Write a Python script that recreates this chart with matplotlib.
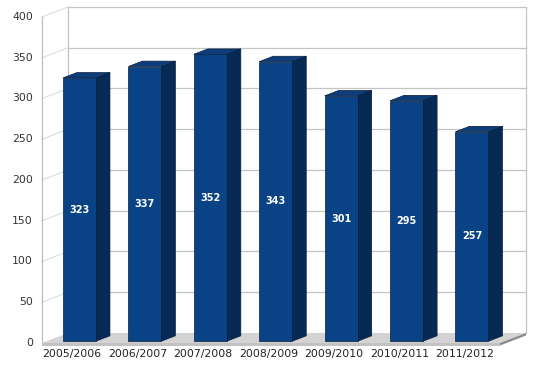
import matplotlib
matplotlib.use("Agg")
import matplotlib.pyplot as plt
from matplotlib.patches import Polygon

categories = ["2005/2006", "2006/2007", "2007/2008", "2008/2009",
              "2009/2010", "2010/2011", "2011/2012"]
values = [323, 337, 352, 343, 301, 295, 257]
yticks = [0, 50, 100, 150, 200, 250, 300, 350, 400]

W, H = 539, 369
fig = plt.figure(figsize=(W / 100, H / 100), dpi=100)
# front plane: x 42..500 px, y(from top) 343..17 px
L, R, B, T = 42, 500, 343, 17
ax = fig.add_axes([L / W, (H - B) / H, (R - L) / W, (B - T) / H])
n = len(categories)
ymax = 400
ax.set_xlim(0, n)
ax.set_ylim(0, ymax)
ax.axis("off")

# depth vector in data units (26 px right, 10 px up)
px_x = n / (R - L)
px_y = ymax / (B - T)
DX, DY = 26 * px_x, 10 * px_y

def pt(x, y, d):
    return (x + DX * d, y + DY * d)

grid_c = "#c4c4c4"
# back wall gridlines and diagonals
for t in yticks:
    bx0, by0 = pt(0, t, 1)
    bx1, by1 = pt(n, t, 1)
    if t > 0:
        ax.plot([bx0, bx1], [by0, by1], color=grid_c, lw=0.9, clip_on=False, zorder=1)
        ax.plot([0, bx0], [t, by0], color="#dcdcdc", lw=0.8, clip_on=False, zorder=1)
    ax.text(-9 * px_x, t, str(t), ha="right", va="center", fontsize=7.8,
            color="#333333")
# back wall verticals
for x in (0, n):
    xa, ya = pt(x, 0, 1)
    xb, yb = pt(x, ymax, 1)
    ax.plot([xa, xb], [ya, yb], color=grid_c, lw=0.9, clip_on=False, zorder=1)
# front left axis
ax.plot([0, 0], [0, ymax], color="#bdbdbd", lw=0.9, clip_on=False, zorder=1)

# floor
floor = Polygon([pt(0, 0, 0), pt(n, 0, 0), pt(n, 0, 1), pt(0, 0, 1)],
                closed=True, facecolor="#d3d3d3", edgecolor="none",
                clip_on=False, zorder=2)
ax.add_patch(floor)
th = 2.5 * px_y
slab_f = Polygon([pt(0, 0, 0), pt(n, 0, 0), pt(n, -th, 0), pt(0, -th, 0)],
                 closed=True, facecolor="#c2c2c2", edgecolor="none",
                 clip_on=False, zorder=2)
ax.add_patch(slab_f)
slab_s = Polygon([pt(n, 0, 0), pt(n, 0, 1), pt(n, -th, 1), pt(n, -th, 0)],
                 closed=True, facecolor="#8a8a8a", edgecolor="none",
                 clip_on=False, zorder=2)
ax.add_patch(slab_s)

front_c = "#094285"
side_c = "#072a55"
top_c = "#0e3d7a"
edge_c = "#051d3d"
bw = 0.505
d0, d1 = 0.18, 0.72
for i, v in enumerate(values):
    x0 = i + 0.5 - bw / 2
    x1 = i + 0.5 + bw / 2
    front = [pt(x0, 0, d0), pt(x1, 0, d0), pt(x1, v, d0), pt(x0, v, d0)]
    side = [pt(x1, 0, d0), pt(x1, 0, d1), pt(x1, v, d1), pt(x1, v, d0)]
    top = [pt(x0, v, d0), pt(x1, v, d0), pt(x1, v, d1), pt(x0, v, d1)]
    for poly, fc in ((side, side_c), (top, top_c), (front, front_c)):
        ax.add_patch(Polygon(poly, closed=True, facecolor=fc, edgecolor=edge_c,
                             lw=0.5, clip_on=False, zorder=3))
    cx, cy = pt(i + 0.5, v / 2, d0)
    ax.text(cx, cy, str(v), ha="center", va="center", fontsize=7,
            fontweight="bold", color="white", zorder=4)
    ax.text(i + 0.46, -6 * px_y, categories[i], ha="center", va="top",
            fontsize=7.8, color="#222222")

fig.savefig("out.png", dpi=100, facecolor="white")
